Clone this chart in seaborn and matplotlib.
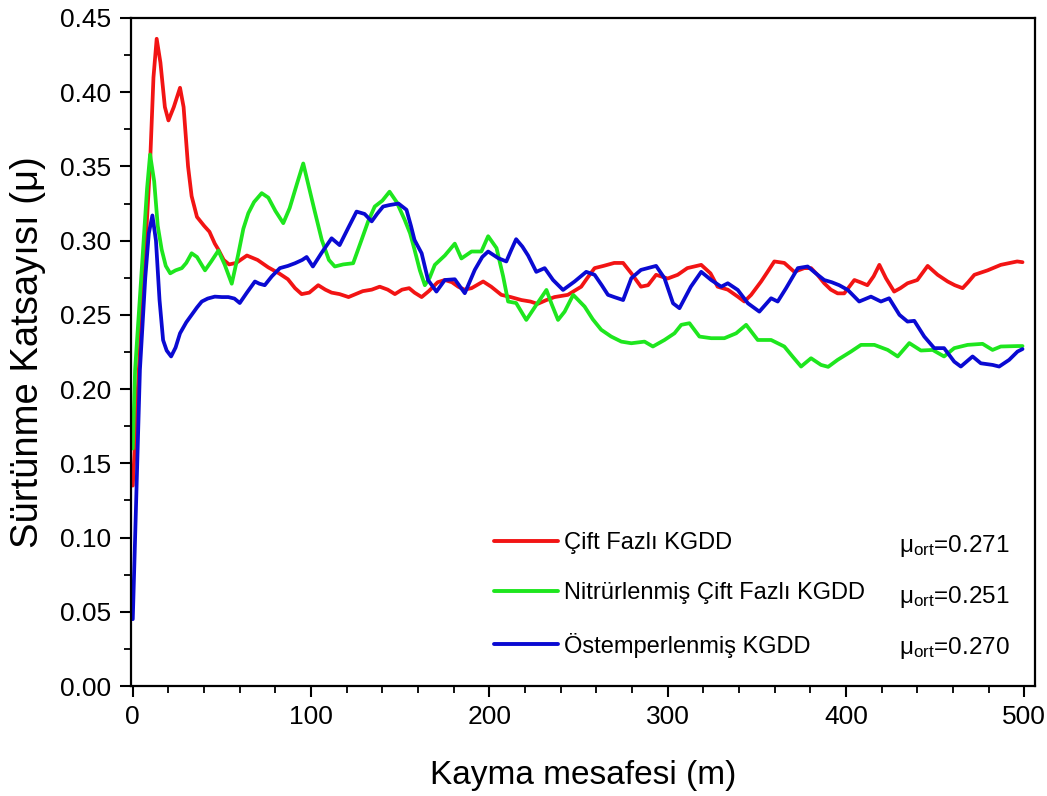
import numpy as np
import pandas as pd
import matplotlib
matplotlib.use("Agg")
import matplotlib.pyplot as plt
from matplotlib.ticker import MultipleLocator
import seaborn as sns

# Friction coefficient vs sliding distance for three ADI treatments
red_x = [0, 5, 9.7, 11.6, 13.4, 15.5, 18, 20, 23, 26.5, 28.5, 31, 33, 36, 40, 43, 46, 48, 51, 54,
         58, 64, 70, 76, 82, 87, 91, 94.7, 99, 104, 108, 111.5, 116, 121, 125, 129, 134, 138.5,
         143, 147, 151, 155, 158, 162, 166, 171, 175, 179, 182.5, 186, 190, 196.5, 201, 206.7,
         212, 218, 223, 227, 232, 236.5, 244, 251.5, 255, 259, 264, 270, 275, 279.6, 285, 289,
         293.5, 300, 305.6, 311, 318.8, 324, 328, 333.7, 339.3, 343, 346.8, 352.4, 356, 359.8,
         365.4, 371, 376.6, 380.4, 384, 387.8, 391.5, 395.3, 399, 404.7, 408, 412, 415.5, 418.7,
         422.4, 427, 430.5, 434.5, 440, 445.8, 451.4, 457, 461, 465.4, 468.5, 472, 479.4, 486.8,
         492, 496, 499]
red_y = [0.135, 0.25, 0.352, 0.41, 0.436, 0.42, 0.39, 0.381, 0.39, 0.403, 0.39, 0.35, 0.33, 0.316,
         0.31, 0.306, 0.298, 0.294, 0.287, 0.284, 0.285, 0.290, 0.287, 0.282, 0.278, 0.274, 0.268,
         0.264, 0.265, 0.270, 0.267, 0.265, 0.264, 0.262, 0.264, 0.266, 0.267, 0.269, 0.267, 0.264,
         0.267, 0.268, 0.265, 0.262, 0.266, 0.272, 0.2735, 0.272, 0.269, 0.267, 0.268, 0.2725,
         0.269, 0.2635, 0.262, 0.260, 0.259, 0.2574, 0.260, 0.262, 0.2635, 0.269, 0.275, 0.2815,
         0.283, 0.285, 0.285, 0.278, 0.269, 0.270, 0.277, 0.2745, 0.277, 0.2815, 0.2837, 0.278,
         0.269, 0.267, 0.2623, 0.259, 0.2635, 0.2725, 0.279, 0.286, 0.285, 0.279, 0.2815, 0.2815,
         0.277, 0.2713, 0.267, 0.2645, 0.2645, 0.2735, 0.272, 0.270, 0.276, 0.2837, 0.2747,
         0.2657, 0.268, 0.2713, 0.2735, 0.283, 0.277, 0.2725, 0.270, 0.268, 0.272, 0.277, 0.280,
         0.2837, 0.285, 0.286, 0.2855]

green_x = [0, 1.3, 5, 8, 9.7, 12, 14, 16.2, 18.5, 21, 24, 27.5, 30, 33, 36, 40.5, 44, 48, 51.5,
           55.5, 59, 62, 64.8, 68, 72.3, 76, 80, 84.4, 88, 92, 95.6, 98, 102, 106, 110, 113.3,
           118, 123.6, 128.3, 132, 135.7, 140, 144, 148, 152.5, 155.5, 158, 161, 163.8, 166.5,
           169.4, 175, 180.6, 184.3, 190, 195.5, 199.3, 204, 207.7, 210.5, 215, 220.7, 226.3,
           232, 235, 238.5, 242.2, 247, 253.4, 258, 262.7, 268.3, 274, 279.6, 287, 291.7, 298.2,
           303.8, 307.6, 312.2, 317.8, 324.4, 331.8, 338.4, 344, 350.5, 358, 365.4, 370, 374.8,
           380.4, 386, 390, 395.3, 402.8, 408.4, 415.9, 423.4, 429, 435.5, 442, 448.6, 455,
           460.7, 468.2, 476.6, 482.2, 486.8, 496.2, 499]
green_y = [0.16, 0.213, 0.28, 0.335, 0.358, 0.34, 0.31, 0.294, 0.283, 0.278, 0.280, 0.2815, 0.285,
           0.2915, 0.289, 0.280, 0.286, 0.2933, 0.284, 0.271, 0.29, 0.308, 0.3185, 0.326, 0.332,
           0.329, 0.320, 0.3118, 0.322, 0.338, 0.352, 0.34, 0.32, 0.3005, 0.287, 0.2826, 0.284,
           0.2848, 0.3005, 0.313, 0.323, 0.327, 0.333, 0.326, 0.314, 0.305, 0.294, 0.28, 0.270,
           0.275, 0.2837, 0.290, 0.298, 0.288, 0.2927, 0.2927, 0.303, 0.295, 0.276, 0.259, 0.258,
           0.2466, 0.2567, 0.2668, 0.257, 0.2466, 0.2522, 0.2635, 0.2556, 0.247, 0.240, 0.2354,
           0.232, 0.2309, 0.232, 0.2287, 0.2331, 0.2376, 0.2433, 0.2444, 0.2354, 0.2343, 0.2343,
           0.2376, 0.2433, 0.2331, 0.2331, 0.2287, 0.222, 0.2152, 0.2208, 0.2163, 0.215, 0.2197,
           0.2253, 0.2298, 0.2298, 0.2264, 0.222, 0.231, 0.226, 0.2264, 0.222, 0.2276, 0.2298,
           0.2305, 0.2264, 0.2287, 0.229, 0.229]

blue_x = [0, 4, 7, 9, 11, 13, 15, 17, 19, 21.5, 24, 26.5, 30, 33, 36, 38.7, 42, 46, 50, 53.6, 57,
          60, 64, 68.5, 71, 74, 78, 82.5, 87, 91, 95, 97.5, 101, 106, 111.5, 116, 121, 125.5, 130,
          134, 137, 140.4, 144, 149, 153.5, 156, 158, 162, 165.6, 170.3, 175, 180.6, 186.2, 191.8,
          196, 199.3, 205, 209.5, 212, 215, 218.5, 221.7, 226.3, 231, 235.7, 241.3, 247.8, 254.3,
          259, 263, 266.5, 270, 275, 279.6, 285, 293.5, 298.2, 303, 306.6, 313, 318.8, 324.4, 330,
          333.7, 339.3, 345, 351.4, 358, 361.7, 366.4, 373, 378.5, 384.1, 387.8, 392, 396.2, 401,
          407.4, 414, 419.6, 424.2, 430, 434.5, 438.3, 443.9, 449.5, 455, 460.7, 464.4, 471,
          475.6, 482.2, 485.9, 491.5, 496.2, 499]
blue_y = [0.045, 0.213, 0.275, 0.305, 0.317, 0.30, 0.26, 0.233, 0.226, 0.222, 0.228, 0.2376, 0.245,
          0.250, 0.255, 0.259, 0.261, 0.2623, 0.262, 0.262, 0.261, 0.258, 0.265, 0.2725, 0.271,
          0.270, 0.276, 0.2815, 0.283, 0.2848, 0.287, 0.289, 0.2826, 0.292, 0.3016, 0.297, 0.309,
          0.3196, 0.318, 0.313, 0.318, 0.323, 0.324, 0.325, 0.3208, 0.31, 0.3005, 0.2915, 0.2735,
          0.2657, 0.2735, 0.274, 0.2646, 0.2803, 0.289, 0.2927, 0.2882, 0.286, 0.293, 0.301,
          0.296, 0.290, 0.279, 0.2815, 0.2735, 0.2668, 0.2725, 0.279, 0.277, 0.270, 0.2635,
          0.262, 0.260, 0.2747, 0.2803, 0.283, 0.2747, 0.2578, 0.2545, 0.269, 0.279, 0.2735,
          0.269, 0.2713, 0.2668, 0.2578, 0.2522, 0.2612, 0.259, 0.268, 0.2815, 0.2826, 0.277,
          0.2735, 0.272, 0.270, 0.2668, 0.259, 0.2623, 0.259, 0.2612, 0.250, 0.2455, 0.246,
          0.2354, 0.2276, 0.2276, 0.2185, 0.2152, 0.222, 0.2174, 0.2163, 0.2152, 0.2197, 0.2253,
          0.227]

series_names = ["Çift Fazlı KGDD", "Nitrürlenmiş Çift Fazlı KGDD", "Östemperlenmiş KGDD"]
mean_values = ["0.271", "0.251", "0.270"]
series_colors = ["#f21414", "#1ee61e", "#0a0ad2"]

x_ticks = [0, 100, 200, 300, 400, 500]
y_ticks = [0.00, 0.05, 0.10, 0.15, 0.20, 0.25, 0.30, 0.35, 0.40, 0.45]

frames = []
for name, xs, ys in zip(series_names, [red_x, green_x, blue_x], [red_y, green_y, blue_y]):
    frames.append(pd.DataFrame({"mesafe": xs, "mu": ys, "seri": name}))
df = pd.concat(frames, ignore_index=True)

sns.set_theme(style="ticks")
plt.rcParams["font.family"] = ["Liberation Sans", "DejaVu Sans"]
plt.rcParams["mathtext.fontset"] = "custom"
plt.rcParams["mathtext.rm"] = "Liberation Sans"
plt.rcParams["text.color"] = "black"
plt.rcParams["axes.labelcolor"] = "black"

fig = plt.figure(figsize=(10.47, 7.96), dpi=100)
ax = fig.add_axes([131 / 1047, 1 - 686 / 796, (1035 - 131) / 1047, (686 - 18) / 796])

sns.lineplot(data=df, x="mesafe", y="mu", hue="seri", hue_order=series_names,
             palette=dict(zip(series_names, series_colors)), linewidth=2.7,
             sort=False, estimator=None, ax=ax)

ax.set_xlim(-1, 506)
ax.set_ylim(0, 0.45)
ax.set_xticks(x_ticks)
ax.set_xticklabels([str(v) for v in x_ticks])
ax.set_yticks(y_ticks)
ax.set_yticklabels([f"{v:.2f}" for v in y_ticks])
ax.xaxis.set_minor_locator(MultipleLocator(20))
ax.yaxis.set_minor_locator(MultipleLocator(0.025))
ax.tick_params(axis="both", which="major", direction="out", length=8, width=1.5,
               labelsize=19, color="black", labelcolor="black", pad=6)
ax.tick_params(axis="both", which="minor", direction="out", length=5, width=1.3, color="black")
ax.tick_params(top=False, right=False, which="both")
for s in ax.spines.values():
    s.set_linewidth(1.6)
    s.set_color("black")

ax.set_xlabel("Kayma mesafesi (m)", fontsize=24, labelpad=22, color="black")
ax.set_ylabel("Sürtünme Katsayısı (μ)", fontsize=27.5, labelpad=10, color="black")

handles, labels = ax.get_legend_handles_labels()
leg = ax.legend(handles, labels, loc="upper left", bbox_to_anchor=(494 / 1047, 1 - 532 / 796),
                bbox_transform=fig.transFigure, frameon=False, fontsize=17,
                handlelength=2.7, handletextpad=0.25, labelspacing=1.2,
                borderpad=0, borderaxespad=0)
for line in leg.get_lines():
    line.set_linewidth(2.8)
for t in leg.get_texts():
    t.set_color("black")

for i, val in enumerate(mean_values):
    yrow = 543 + 51 * i
    fig.text(899 / 1047, 1 - (yrow + 3) / 796, r"$\mathregular{\mu_{ort}}$=" + val,
             fontsize=17.5, va="center", ha="left", color="black")

fig.savefig("out.png", dpi=100, facecolor="white")
